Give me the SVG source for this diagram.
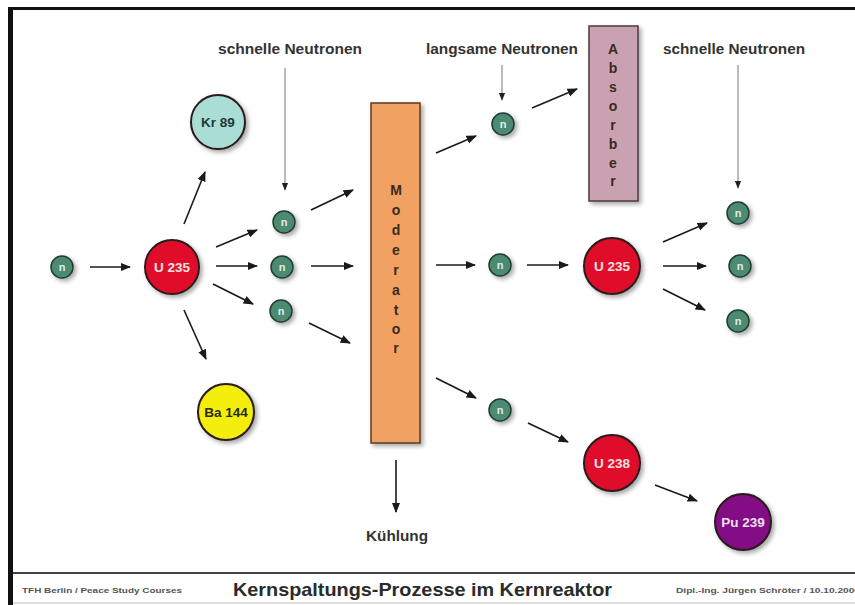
<svg xmlns="http://www.w3.org/2000/svg" width="855" height="605" viewBox="0 0 855 605">
<style>
.lbl{font-family:"Liberation Sans",Arial,sans-serif;font-weight:bold;font-size:14px;fill:#333;text-anchor:middle}
.nt{font-family:"Liberation Sans",Arial,sans-serif;font-weight:bold;font-size:11px;fill:#dfeee8;text-anchor:middle}
.at{font-family:"Liberation Sans",Arial,sans-serif;font-weight:bold;font-size:13.5px;text-anchor:middle}
.vt{font-family:"Liberation Sans",Arial,sans-serif;font-weight:bold;font-size:14px;fill:#3a2a20;text-anchor:middle}
.neu{fill:#4d8a72;stroke:#1f3f33;stroke-width:1.5}
.big{stroke:#2a1a1a;stroke-width:2}
.arr{stroke:#1a1a1a;stroke-width:1.6;fill:none;marker-end:url(#ah)}
.thin{stroke:#777;stroke-width:1;fill:none;marker-end:url(#ah2)}
.sm{font-family:"Liberation Sans",Arial,sans-serif;font-size:8px;font-weight:bold;fill:#555}
</style>
<defs>
<marker id="ah" viewBox="0 0 10 10" refX="9" refY="5" markerWidth="6.5" markerHeight="6.5" orient="auto" markerUnits="strokeWidth">
<path d="M0,1 L10,5 L0,9 z" fill="#1a1a1a"/>
</marker>
<marker id="ah2" viewBox="0 0 10 10" refX="9" refY="5" markerWidth="8" markerHeight="8" orient="auto" markerUnits="strokeWidth">
<path d="M0,1 L10,5 L0,9 z" fill="#222"/>
</marker>
<filter id="sh" x="-40%" y="-40%" width="180%" height="180%">
<feDropShadow dx="2.5" dy="2.5" stdDeviation="2" flood-color="#000" flood-opacity="0.35"/>
</filter>
</defs>
<rect x="0" y="0" width="855" height="605" fill="#fff"/>
<g id="frame">
<line x1="10.5" y1="7" x2="10.5" y2="605" stroke="#111" stroke-width="5"/>
<line x1="8" y1="8.5" x2="855" y2="8.5" stroke="#111" stroke-width="3"/>
<line x1="13" y1="573" x2="855" y2="573" stroke="#444" stroke-width="2"/>
<line x1="13" y1="603" x2="855" y2="603" stroke="#bbb" stroke-width="1"/>
</g>
<g id="connectors">
<line class="arr" x1="90" y1="267" x2="130" y2="267"/>
<line class="arr" x1="184" y1="224" x2="205" y2="172"/>
<line class="arr" x1="184" y1="310" x2="206" y2="359"/>
<line class="arr" x1="216" y1="247" x2="257" y2="230"/>
<line class="arr" x1="216" y1="266" x2="257" y2="266"/>
<line class="arr" x1="213" y1="284" x2="253" y2="304"/>
<line class="arr" x1="311" y1="210" x2="353" y2="190"/>
<line class="arr" x1="311" y1="266" x2="353" y2="266"/>
<line class="arr" x1="309" y1="323" x2="350" y2="343"/>
<line class="arr" x1="436" y1="153" x2="476" y2="136"/>
<line class="arr" x1="532" y1="108" x2="577" y2="89"/>
<line class="arr" x1="436" y1="265" x2="475" y2="265"/>
<line class="arr" x1="527" y1="265" x2="568" y2="265"/>
<line class="arr" x1="663" y1="242" x2="707" y2="223"/>
<line class="arr" x1="663" y1="266" x2="706" y2="266"/>
<line class="arr" x1="663" y1="289" x2="705" y2="310"/>
<line class="arr" x1="436" y1="378" x2="476" y2="398"/>
<line class="arr" x1="528" y1="423" x2="568" y2="442"/>
<line class="arr" x1="655" y1="485" x2="697" y2="501"/>
<line class="arr" x1="396" y1="460" x2="396" y2="512"/>
<line class="thin" x1="285" y1="68" x2="285" y2="190"/>
<line class="thin" x1="502" y1="65" x2="502" y2="100"/>
<line class="thin" x1="738" y1="65" x2="738" y2="188"/>
</g>
<g id="n0"><circle class="neu" cx="62" cy="267" r="11" filter="url(#sh)"/><text class="nt" x="62" y="271">n</text></g>
<g id="u235a"><circle class="big" cx="172" cy="267" r="27" fill="#e0102a" filter="url(#sh)"/><text class="at" x="172" y="272" fill="#f4e0e0">U 235</text></g>
<g id="kr89"><circle class="big" cx="218" cy="122" r="27" fill="#a9ddd5" filter="url(#sh)"/><text class="at" x="218" y="127" fill="#1f3a36">Kr 89</text></g>
<g id="ba144"><circle class="big" cx="226" cy="412" r="28" fill="#f4ee10" filter="url(#sh)"/><text class="at" x="226" y="417" fill="#2a2a10">Ba 144</text></g>
<g id="n1"><circle class="neu" cx="284" cy="222" r="11" filter="url(#sh)"/><text class="nt" x="284" y="226">n</text></g>
<g id="n2"><circle class="neu" cx="282" cy="267" r="11" filter="url(#sh)"/><text class="nt" x="282" y="271">n</text></g>
<g id="n3"><circle class="neu" cx="281" cy="311" r="11" filter="url(#sh)"/><text class="nt" x="281" y="315">n</text></g>
<g id="moderator">
<rect x="371" y="103" width="49" height="340" fill="#f1a262" stroke="#5a3a20" stroke-width="1.5" filter="url(#sh)"/>
<text class="vt" x="396" y="195">M</text><text class="vt" x="396" y="215">o</text><text class="vt" x="396" y="235">d</text><text class="vt" x="396" y="255">e</text><text class="vt" x="396" y="275">r</text><text class="vt" x="396" y="295">a</text><text class="vt" x="396" y="315">t</text><text class="vt" x="396" y="334">o</text><text class="vt" x="396" y="353">r</text>
</g>
<g id="absorber">
<rect x="589" y="26" width="49" height="175" fill="#c9a1b1" stroke="#4a3a40" stroke-width="1.5" filter="url(#sh)"/>
<text class="vt" x="613" y="54" fill="#3a2a30">A</text><text class="vt" x="613" y="73">b</text><text class="vt" x="613" y="92">s</text><text class="vt" x="613" y="111">o</text><text class="vt" x="613" y="130">r</text><text class="vt" x="613" y="149">b</text><text class="vt" x="613" y="168">e</text><text class="vt" x="613" y="186">r</text>
</g>
<g id="n4"><circle class="neu" cx="503" cy="124" r="11" filter="url(#sh)"/><text class="nt" x="503" y="128">n</text></g>
<g id="n5"><circle class="neu" cx="500" cy="265" r="11" filter="url(#sh)"/><text class="nt" x="500" y="269">n</text></g>
<g id="u235b"><circle class="big" cx="612" cy="266" r="28" fill="#e0102a" filter="url(#sh)"/><text class="at" x="612" y="271" fill="#f4e0e0">U 235</text></g>
<g id="n6"><circle class="neu" cx="738" cy="213" r="11" filter="url(#sh)"/><text class="nt" x="738" y="217">n</text></g>
<g id="n7"><circle class="neu" cx="740" cy="266" r="11" filter="url(#sh)"/><text class="nt" x="740" y="270">n</text></g>
<g id="n8"><circle class="neu" cx="738" cy="321" r="11" filter="url(#sh)"/><text class="nt" x="738" y="325">n</text></g>
<g id="n9"><circle class="neu" cx="500" cy="410" r="11" filter="url(#sh)"/><text class="nt" x="500" y="414">n</text></g>
<g id="u238"><circle class="big" cx="612" cy="463" r="28" fill="#e0102a" filter="url(#sh)"/><text class="at" x="612" y="468" fill="#f4e0e0">U 238</text></g>
<g id="pu239"><circle class="big" cx="743" cy="522" r="28" fill="#820a84" filter="url(#sh)"/><text class="at" x="743" y="527" fill="#f0e0f0">Pu 239</text></g>
<g id="labels">
<text class="lbl" x="290" y="54" textLength="144" lengthAdjust="spacingAndGlyphs">schnelle Neutronen</text>
<text class="lbl" x="502" y="54" textLength="152" lengthAdjust="spacingAndGlyphs">langsame Neutronen</text>
<text class="lbl" x="734" y="54" textLength="142" lengthAdjust="spacingAndGlyphs">schnelle Neutronen</text>
<text class="lbl" x="397" y="541" textLength="62" lengthAdjust="spacingAndGlyphs">Kühlung</text>
</g>
<g id="footer">
<text class="sm" x="22" y="593" textLength="160" lengthAdjust="spacingAndGlyphs">TFH Berlin / Peace Study Courses</text>
<text x="233" y="596" textLength="379" lengthAdjust="spacingAndGlyphs" style="font-family:'Liberation Sans',Arial,sans-serif;font-weight:bold;font-size:18.5px;fill:#2a2a2a">Kernspaltungs-Prozesse im Kernreaktor</text>
<text class="sm" x="676" y="593" textLength="184" lengthAdjust="spacingAndGlyphs">Dipl.-Ing. Jürgen  Schröter / 10.10.2006</text>
</g>
</svg>
